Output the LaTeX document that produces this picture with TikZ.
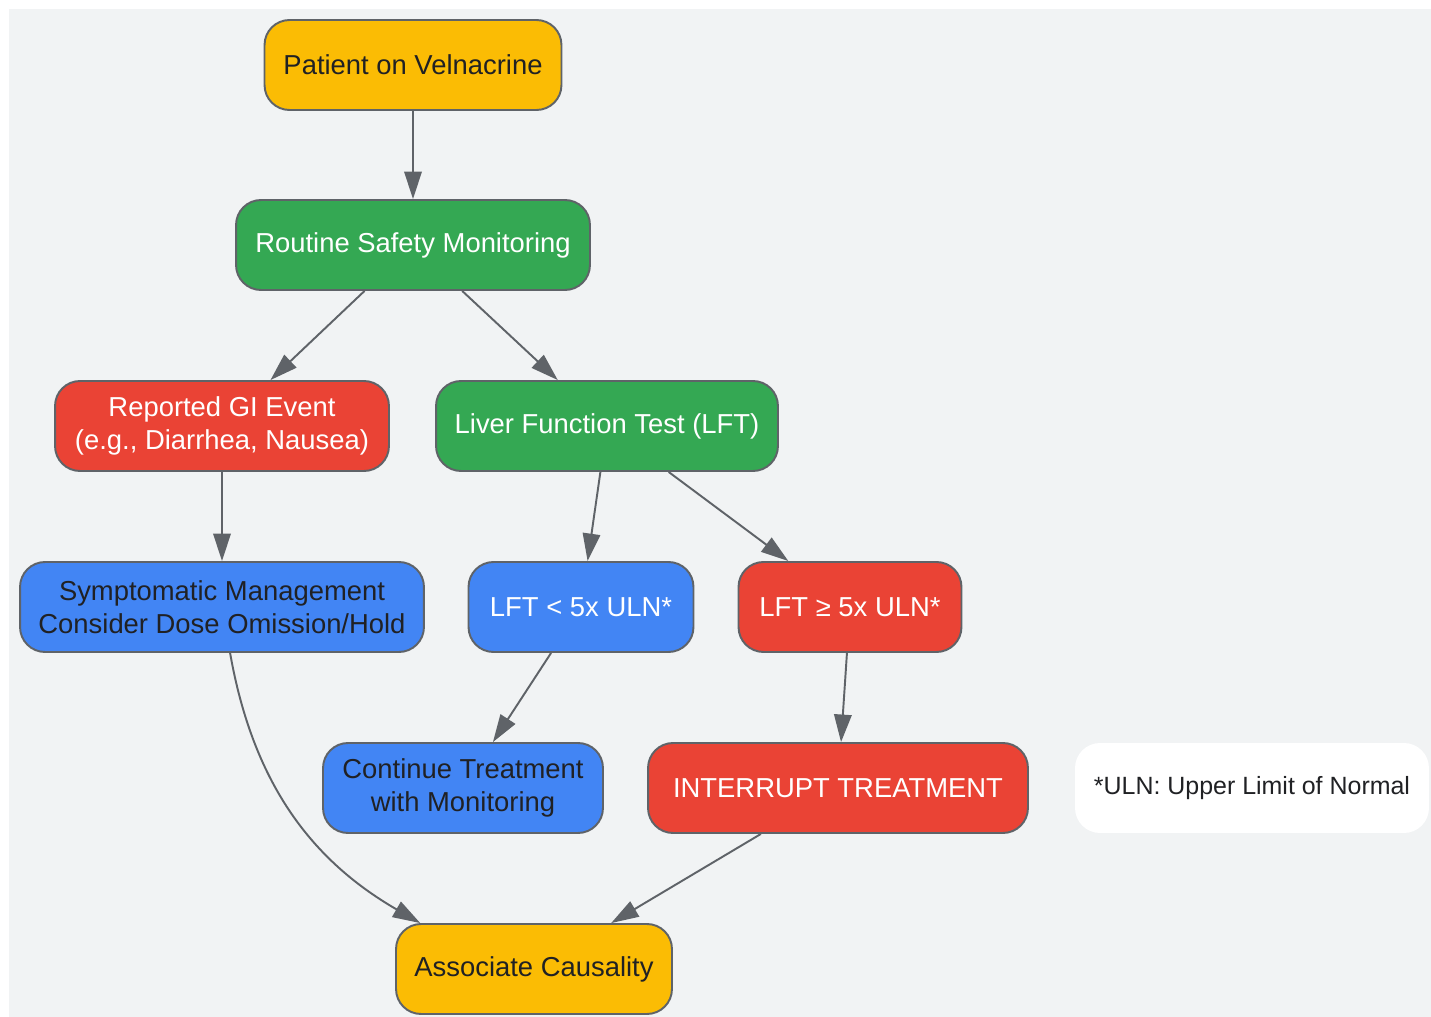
\documentclass[tikz,border=0pt]{standalone}
\usepackage{fontspec}
\setmainfont{Liberation Sans}
\usetikzlibrary{arrows.meta}

\definecolor{gyellow}{HTML}{FBBC04}
\definecolor{ggreen}{HTML}{34A853}
\definecolor{gred}{HTML}{EA4335}
\definecolor{gblue}{HTML}{4285F4}
\definecolor{edgegray}{HTML}{5F6368}
\definecolor{darktext}{HTML}{202124}
\definecolor{bggray}{HTML}{F1F3F4}

\begin{document}
\begin{tikzpicture}[x=0.02cm, y=-0.02cm,
    box/.style={draw=edgegray, line width=1.1pt, rounded corners=0.5cm,
        minimum height=1.8cm, inner xsep=0.3cm, align=center,
        font=\fontsize{15.6}{18.7}\selectfont},
    yellowbox/.style={box, fill=gyellow, text=darktext},
    greenbox/.style={box, fill=ggreen, text=white},
    redbox/.style={box, fill=gred, text=white},
    bluebox/.style={box, fill=gblue, text=darktext},
    arr/.style={draw=edgegray, line width=1.1pt,
        -{Triangle[length=0.55cm, width=0.35cm, fill=edgegray]}}]

    % Canvas and background
    \useasboundingbox (0,0) rectangle (1431,1017);
    \fill[bggray] (9,9) rectangle (1431,1017);

    % Place the boxes
    \node[yellowbox, minimum width=5.94cm] (patient) at (413,65) {Patient on Velnacrine};
    \node[greenbox, minimum width=7.08cm] (routine) at (413,245) {Routine Safety Monitoring};
    \node[redbox, minimum width=6.68cm] (gievent) at (222,426) {Reported GI Event\\(e.g., Diarrhea, Nausea)};
    \node[greenbox, minimum width=6.84cm] (lft) at (607,426) {Liver Function Test (LFT)};
    \node[bluebox, minimum width=8.08cm] (symptom) at (222,607) {Symptomatic Management\\Consider Dose Omission/Hold};
    \node[bluebox, text=white, minimum width=4.5cm] (lftlow) at (581,607) {LFT < 5x ULN*};
    \node[redbox, minimum width=4.46cm] (lfthigh) at (850,607) {LFT ≥ 5x ULN*};
    \node[bluebox, minimum width=5.6cm] (continue) at (463,788) {Continue Treatment\\with Monitoring};
    \node[redbox, minimum width=7.6cm] (interrupt) at (838,788) {INTERRUPT TREATMENT};
    \node[yellowbox, minimum width=5.52cm] (causality) at (534,969) {Associate Causality};

    % Legend
    \node[fill=white, rounded corners=0.5cm, minimum height=1.8cm, minimum width=7.08cm,
        text=darktext, font=\fontsize{14.2}{17}\selectfont] (legend) at (1252,788)
        {*ULN: Upper Limit of Normal};

    % Draw the arrows
    \draw[arr] (patient) -- (routine);
    \draw[arr] (routine) -- (gievent);
    \draw[arr] (routine) -- (lft);
    \draw[arr] (gievent) -- (symptom);
    \draw[arr] (lft) -- (lftlow);
    \draw[arr] (lft) -- (lfthigh);
    \draw[arr] (lftlow) -- (continue);
    \draw[arr] (lfthigh) -- (interrupt);
    \draw[arr] (symptom) to[out=-80, in=150] (causality.158);
    \draw[arr] (interrupt) -- (causality);
\end{tikzpicture}
\end{document}
